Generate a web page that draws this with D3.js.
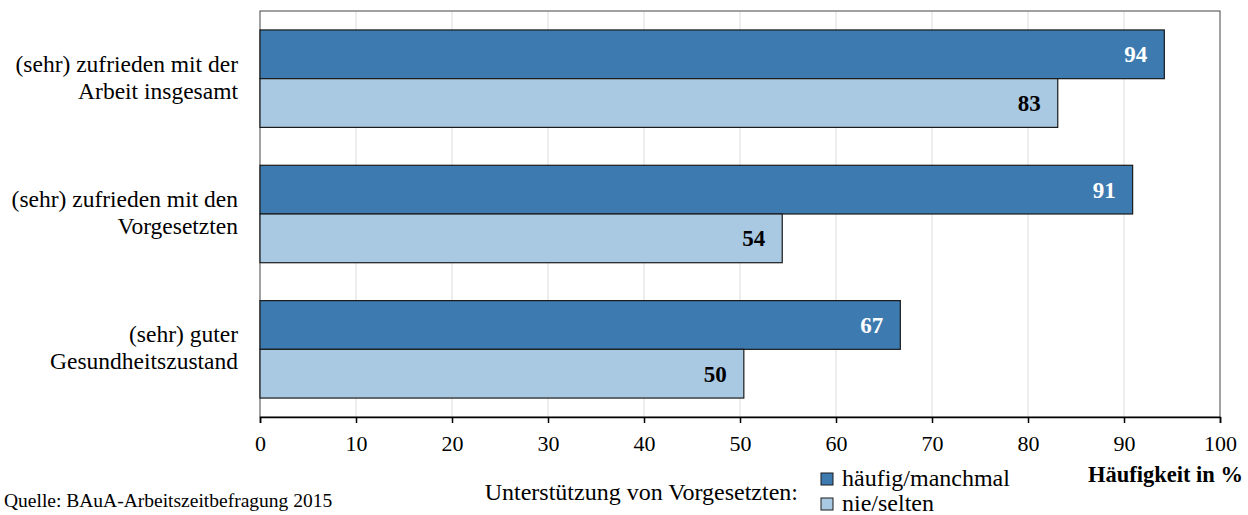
<!DOCTYPE html>
<html>
<head>
<meta charset="utf-8">
<script src="https://cdn.jsdelivr.net/npm/d3@7"></script>
<style>
  body { margin: 0; background: #fff; }
</style>
</head>
<body>
<svg width="1248" height="515"></svg>
<script>
const categories = [
    ["(sehr) zufrieden mit der", "Arbeit insgesamt"],
    ["(sehr) zufrieden mit den", "Vorgesetzten"],
    ["(sehr) guter", "Gesundheitszustand"]
]
const seriesNames = ["häufig/manchmal", "nie/selten"]
const seriesColors = ["#3d7ab0", "#a9c9e2"]
const haeufig = [94.2, 90.9, 66.7]
const selten = [83.1, 54.4, 50.4]
const ticks = [0, 10, 20, 30, 40, 50, 60, 70, 80, 90, 100]

const serif = "'Liberation Serif', 'Times New Roman', Times, serif"
const margin = { left: 260, top: 11, right: 28, bottom: 98 }
const width = 1248, height = 515
const figW = width - margin.left - margin.right
const figH = height - margin.top - margin.bottom

const svg = d3.select("svg").attr("font-family", serif)
const fig = svg.append("g")
    .attr("transform", "translate(" + margin.left + "," + margin.top + ")")

const x = d3.scaleLinear().domain([0, 100]).range([0, figW])
const y = d3.scaleBand().domain(d3.range(categories.length)).range([0, figH])
    .paddingInner(0.28).paddingOuter(0.14)
const ySub = d3.scaleBand().domain([0, 1]).range([0, y.bandwidth()])

// grid
fig.append("g").selectAll("line")
    .data(ticks.slice(1, -1))
    .join("line")
    .attr("x1", d => x(d)).attr("x2", d => x(d))
    .attr("y1", 0).attr("y2", figH)
    .attr("stroke", "#dcdcdc").attr("stroke-width", 1)

// frame
fig.append("rect")
    .attr("x", 0).attr("y", 0).attr("width", figW).attr("height", figH)
    .attr("fill", "none").attr("stroke", "#444").attr("stroke-width", 1)

const rows = categories.map((c, i) => ({ i: i, values: [haeufig[i], selten[i]] }))

const groups = fig.append("g").selectAll("g")
    .data(rows)
    .join("g")
    .attr("transform", d => "translate(0," + y(d.i) + ")")

groups.selectAll("rect")
    .data(d => d.values.map((v, k) => ({ v: v, k: k })))
    .join("rect")
    .attr("x", x(0))
    .attr("y", d => ySub(d.k))
    .attr("width", d => x(d.v) - x(0))
    .attr("height", ySub.bandwidth())
    .attr("fill", d => seriesColors[d.k])
    .attr("stroke", "#1a1a1a").attr("stroke-width", 1.2)

groups.selectAll("text.val")
    .data(d => d.values.map((v, k) => ({ v: v, k: k })))
    .join("text")
    .attr("class", "val")
    .attr("x", d => x(d.v) - 17)
    .attr("y", d => ySub(d.k) + ySub.bandwidth() / 2 + 8)
    .attr("text-anchor", "end")
    .attr("font-family", serif)
    .attr("font-size", 23).attr("font-weight", "bold")
    .attr("fill", d => d.k === 0 ? "#fff" : "#000")
    .text(d => d3.format(".0f")(d.v))

// category labels
fig.append("g").selectAll("text")
    .data(categories)
    .join("text")
    .attr("text-anchor", "end")
    .attr("font-family", serif)
    .attr("font-size", 23.5)
    .attr("transform", (d, i) => "translate(-22," + (y(i) + y.bandwidth() / 2) + ")")
    .each(function(d) {
        const t = d3.select(this)
        t.append("tspan").attr("x", 0).attr("y", -7).text(d[0])
        t.append("tspan").attr("x", 0).attr("y", 20).text(d[1])
    })

// x axis
const xAxis = d3.axisBottom(x).tickValues(ticks).tickSize(6).tickPadding(12)
fig.append("g")
    .attr("transform", "translate(0," + figH + ")")
    .call(xAxis)
    .attr("font-family", serif)
    .call(g => g.select(".domain").attr("stroke", "#000").attr("stroke-width", 1.5))
    .call(g => g.selectAll(".tick line").attr("stroke", "#000").attr("stroke-width", 1.5))
    .call(g => g.selectAll(".tick text").attr("font-size", 22).attr("fill", "#000"))

svg.append("text")
    .attr("x", 1243).attr("y", 482)
    .attr("text-anchor", "end").attr("font-size", 22.5).attr("font-weight", "bold")
    .text("Häufigkeit in %")

svg.append("text")
    .attr("x", 4).attr("y", 507)
    .attr("font-size", 19.5)
    .text("Quelle: BAuA-Arbeitszeitbefragung 2015")

svg.append("text")
    .attr("x", 798).attr("y", 500)
    .attr("text-anchor", "end").attr("font-size", 24)
    .text("Unterstützung von Vorgesetzten:")

const legend = svg.append("g").selectAll("g")
    .data(seriesNames)
    .join("g")
    .attr("transform", (d, i) => "translate(821," + (473 + i * 25) + ")")

legend.append("rect")
    .attr("width", 12).attr("height", 12)
    .attr("fill", (d, i) => seriesColors[i])
    .attr("stroke", "#1a1a1a").attr("stroke-width", 1)

legend.append("text")
    .attr("x", 21).attr("y", 13)
    .attr("font-family", serif)
    .attr("font-size", 24)
    .text(d => d)
</script>
</body>
</html>
